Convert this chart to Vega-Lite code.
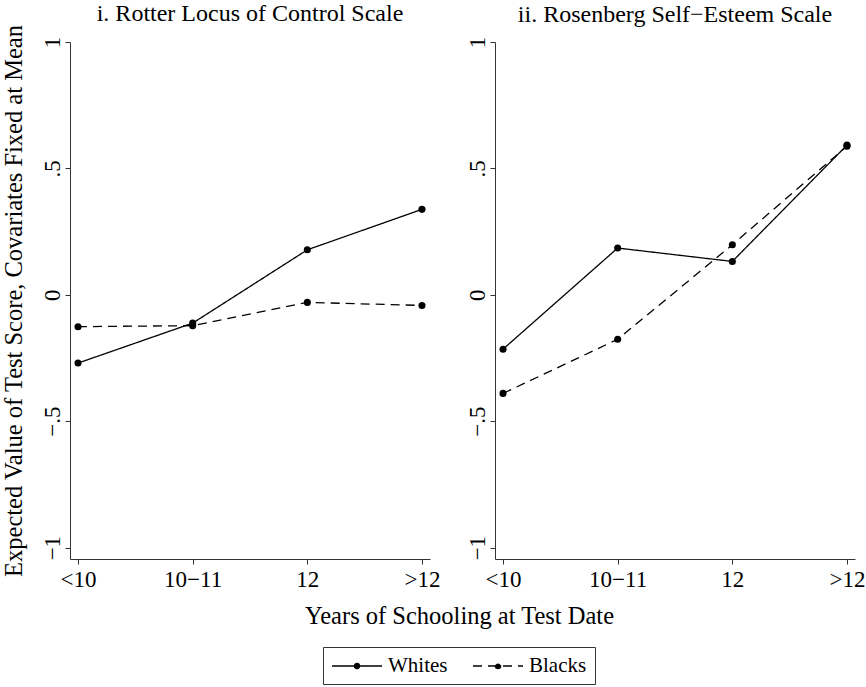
{
  "$schema": "https://vega.github.io/schema/vega-lite/v6.json",
  "background": "white",
  "padding": {"left": 0, "top": 2, "right": 4, "bottom": 2},
  "config": {
    "font": "Liberation Serif",
    "view": {"stroke": null},
    "axis": {
      "grid": false,
      "domainColor": "#333",
      "tickColor": "#333",
      "labelColor": "black",
      "titleColor": "black",
      "labelFont": "Liberation Serif",
      "titleFont": "Liberation Serif",
      "labelFontSize": 23,
      "titleFontSize": 24.5,
      "titleFontWeight": "normal",
      "tickSize": 5,
      "domainWidth": 1,
      "tickWidth": 1
    },
    "title": {"font": "Liberation Serif", "fontSize": 24, "fontWeight": "normal", "color": "black"},
    "legend": {"labelFont": "Liberation Serif", "labelFontSize": 21, "labelColor": "black"}
  },
  "datasets": {
    "scores": [
      {"panel": "Rotter", "schooling": "<10", "group": "Whites", "value": -0.27},
      {"panel": "Rotter", "schooling": "10−11", "group": "Whites", "value": -0.112},
      {"panel": "Rotter", "schooling": "12", "group": "Whites", "value": 0.178},
      {"panel": "Rotter", "schooling": ">12", "group": "Whites", "value": 0.338},
      {"panel": "Rotter", "schooling": "<10", "group": "Blacks", "value": -0.126},
      {"panel": "Rotter", "schooling": "10−11", "group": "Blacks", "value": -0.122},
      {"panel": "Rotter", "schooling": "12", "group": "Blacks", "value": -0.03},
      {"panel": "Rotter", "schooling": ">12", "group": "Blacks", "value": -0.042},
      {"panel": "Rosenberg", "schooling": "<10", "group": "Whites", "value": -0.215},
      {"panel": "Rosenberg", "schooling": "10−11", "group": "Whites", "value": 0.185},
      {"panel": "Rosenberg", "schooling": "12", "group": "Whites", "value": 0.132},
      {"panel": "Rosenberg", "schooling": ">12", "group": "Whites", "value": 0.592},
      {"panel": "Rosenberg", "schooling": "<10", "group": "Blacks", "value": -0.39},
      {"panel": "Rosenberg", "schooling": "10−11", "group": "Blacks", "value": -0.176},
      {"panel": "Rosenberg", "schooling": "12", "group": "Blacks", "value": 0.198},
      {"panel": "Rosenberg", "schooling": ">12", "group": "Blacks", "value": 0.588}
    ]
  },
  "bounds": "flush",
  "spacing": 65,
  "hconcat": [
    {
      "width": 360,
      "height": 517,
      "title": {"text": "i. Rotter Locus of Control Scale", "offset": -2, "frame": "group", "font": "Liberation Serif"},
      "data": {"name": "scores"},
      "transform": [{"filter": "datum.panel === 'Rotter'"}],
      "encoding": {
        "x": {
          "field": "schooling", "type": "ordinal",
          "sort": ["<10", "10−11", "12", ">12"],
          "scale": {"type": "point", "padding": 0.07},
          "axis": {
            "title": "Years of Schooling at Test Date",
            "titleFont": "Liberation Serif",
            "labelFont": "Liberation Serif",
            "titleX": 389,
            "titleY": 57,
            "titleBaseline": "middle",
            "labelAngle": 0,
            "labelPadding": 4
          }
        },
        "y": {
          "field": "value", "type": "quantitative",
          "scale": {"domain": [-1.045, 1], "nice": false, "zero": false},
          "axis": {
            "title": "Expected Value of Test Score, Covariates Fixed at Mean",
            "titleFont": "Liberation Serif",
            "labelFont": "Liberation Serif",
            "values": [-1, -0.5, 0, 0.5, 1],
            "labelExpr": "datum.value === 0 ? '0' : datum.value === 1 ? '1' : datum.value === -1 ? '−1' : datum.value === 0.5 ? '.5' : '−.5'",
            "labelAngle": -90,
            "labelAlign": "center",
            "labelBaseline": "bottom",
            "labelPadding": 1,
            "titlePadding": 15
          }
        }
      },
      "layer": [
        {
          "mark": {"type": "line", "color": "black", "strokeWidth": 1.3},
          "encoding": {
            "strokeDash": {
              "field": "group", "type": "nominal",
              "scale": {"domain": ["Whites", "Blacks"], "range": [[1, 0], [9, 6]]},
              "legend": {
                "title": null,
                "orient": "none",
                "legendX": 253,
                "legendY": 605,
                "direction": "horizontal",
                "strokeColor": "#333",
                "padding": 8,
                "labelFont": "Liberation Serif",
                "labelFontSize": 21,
                "symbolType": "M-2.5,0H2.5M0.26,0A0.26,0.26,0,1,1,-0.26,0A0.26,0.26,0,1,1,0.26,0Z",
                "symbolSize": 400,
                "symbolStrokeWidth": 1.3,
                "symbolStrokeColor": "black",
                "symbolFillColor": "black",
                "symbolOffset": 15,
                "columnPadding": 22,
                "labelOffset": 20
              }
            }
          }
        },
        {
          "mark": {"type": "point", "filled": true, "color": "black", "size": 50, "opacity": 1},
          "encoding": {"detail": {"field": "group"}}
        }
      ]
    },
    {
      "width": 360,
      "height": 517,
      "title": {"text": "ii. Rosenberg Self−Esteem Scale", "offset": 9, "frame": "group", "font": "Liberation Serif"},
      "data": {"name": "scores"},
      "transform": [{"filter": "datum.panel === 'Rosenberg'"}],
      "encoding": {
        "x": {
          "field": "schooling", "type": "ordinal",
          "sort": ["<10", "10−11", "12", ">12"],
          "scale": {"type": "point", "padding": 0.07},
          "axis": {"title": null, "labelFont": "Liberation Serif", "labelAngle": 0, "labelPadding": 4}
        },
        "y": {
          "field": "value", "type": "quantitative",
          "scale": {"domain": [-1.045, 1], "nice": false, "zero": false},
          "axis": {
            "title": null,
            "labelFont": "Liberation Serif",
            "values": [-1, -0.5, 0, 0.5, 1],
            "labelExpr": "datum.value === 0 ? '0' : datum.value === 1 ? '1' : datum.value === -1 ? '−1' : datum.value === 0.5 ? '.5' : '−.5'",
            "labelAngle": -90,
            "labelAlign": "center",
            "labelBaseline": "bottom",
            "labelPadding": 1
          }
        }
      },
      "layer": [
        {
          "mark": {"type": "line", "color": "black", "strokeWidth": 1.3},
          "encoding": {
            "strokeDash": {
              "field": "group", "type": "nominal",
              "scale": {"domain": ["Whites", "Blacks"], "range": [[1, 0], [9, 6]]},
              "legend": null
            }
          }
        },
        {
          "mark": {"type": "point", "filled": true, "color": "black", "size": 50, "opacity": 1},
          "encoding": {"detail": {"field": "group"}}
        }
      ]
    }
  ],
  "resolve": {"scale": {"strokeDash": "shared"}}
}
